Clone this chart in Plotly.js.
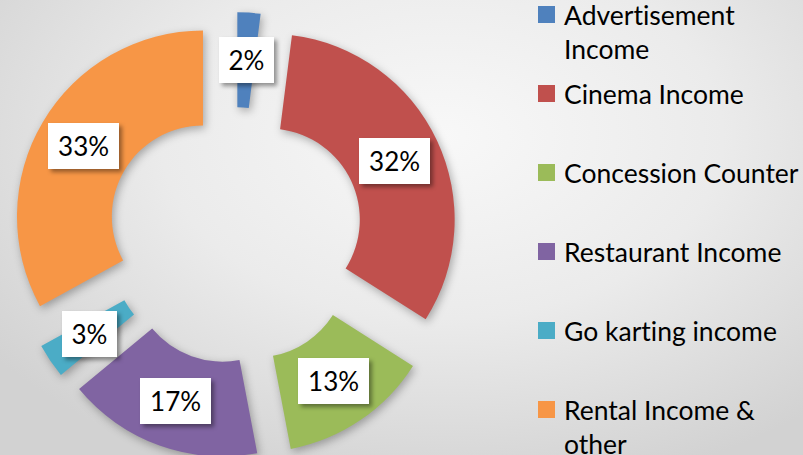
<!DOCTYPE html>
<html>
<head>
<meta charset="utf-8">
<script src="https://cdn.plot.ly/plotly-3.0.1.min.js"></script>
<style>
  html, body { margin: 0; padding: 0; width: 803px; height: 455px; overflow: hidden; }
  body { background: radial-gradient(ellipse 70% 80% at 55% 30%, #f8f8f8 0%, #ebebeb 50%, #d2d2d2 100%); }
  #chart { width: 803px; height: 470px; }
  text { font-variant-ligatures: none; font-feature-settings: "liga" 0; }
  .pielayer .slice path.surface { filter: drop-shadow(2px 3px 4px rgba(0,0,0,0.30)); }
  .annotation-text-g rect.bg { filter: drop-shadow(3px 3px 2px rgba(0,0,0,0.40)); }
</style>
</head>
<body>
<div id="chart"></div>
<script>
// ---- data ----
const categories = ["Advertisement Income", "Cinema Income", "Concession Counter", "Restaurant Income", "Go karting income", "Rental Income & other"];
const legendLabels = ["Advertisement<br>Income", "Cinema Income", "Concession Counter", "Restaurant Income", "Go karting income", "Rental Income &<br>other"];
const shares = [2, 32, 13, 17, 3, 33];
const pctLabels = ["2%", "32%", "13%", "17%", "3%", "33%"];
const colors = ["#4F81BD", "#C0504D", "#9BBB59", "#8064A2", "#4BACC6", "#F79646"];

// ---- layout constants ----
const W = 803, H = 470;
const PULL = 0.2, HOLE = 0.49;
const domX = [11.8 / W, 458.2 / W];
const domY = [1 - 458.7 / H, 1 - 12.3 / H];
const FONT = "Lato, 'Open Sans', sans-serif";

// pie geometry (as Plotly computes it)
const boxW = (domX[1] - domX[0]) * W, boxH = (domY[1] - domY[0]) * H;
const R = Math.min(boxW, boxH) / (2 + 2 * PULL);
const cx = (domX[0] + domX[1]) / 2 * W;
const cy = H - (domY[0] + domY[1]) / 2 * H;

const total = shares.reduce((a, b) => a + b, 0);
const annotations = [];
const shapes = [];
let cum = 0;
shares.forEach((v, i) => {
  const mid = (cum + v / 2) / total * 2 * Math.PI;
  cum += v;
  const rl = R * (1 + HOLE) / 2 + PULL * R;
  const px = cx + rl * Math.sin(mid);
  const py = cy - rl * Math.cos(mid);
  annotations.push({
    x: px / W, y: 1 - py / H, xref: "paper", yref: "paper",
    text: pctLabels[i], showarrow: false,
    font: { family: FONT, size: 26, color: "#000" },
    bgcolor: "#ffffff", bordercolor: "rgba(0,0,0,0)", borderwidth: 0,
    width: 20 + 16.4 * pctLabels[i].length, height: 44,
    xanchor: "center", yanchor: "middle"
  });
});

// legend (drawn manually for Excel-style even spacing)
const legX = 538, legSq = 17, legTop = 14.5, legStep = 79;
legendLabels.forEach((lab, i) => {
  const yc = legTop + i * legStep;
  shapes.push({
    type: "rect", xref: "paper", yref: "paper",
    x0: legX / W, x1: (legX + legSq) / W,
    y0: 1 - (yc - legSq / 2) / H, y1: 1 - (yc + legSq / 2) / H,
    fillcolor: colors[i], line: { width: 0 }
  });
  annotations.push({
    x: (legX + legSq + 8) / W, y: 1 - (yc - 17) / H, xref: "paper", yref: "paper",
    text: lab, showarrow: false, align: "left",
    xanchor: "left", yanchor: "top", borderpad: 0,
    font: { family: FONT, size: 26.5, color: "#000" }
  });
});

const data = [{
  type: "pie",
  labels: categories,
  values: shares,
  marker: { colors: colors, line: { width: 0 } },
  hole: HOLE,
  pull: shares.map(() => PULL),
  sort: false,
  direction: "clockwise",
  rotation: 0,
  textinfo: "none",
  hoverinfo: "label+percent",
  showlegend: false,
  domain: { x: domX, y: domY }
}];

const layout = {
  width: W, height: H,
  margin: { l: 0, r: 0, t: 0, b: 0 },
  paper_bgcolor: "rgba(0,0,0,0)",
  plot_bgcolor: "rgba(0,0,0,0)",
  showlegend: false,
  annotations: annotations,
  shapes: shapes
};

Plotly.newPlot("chart", data, layout, { displayModeBar: false, staticPlot: true });
</script>
</body>
</html>
